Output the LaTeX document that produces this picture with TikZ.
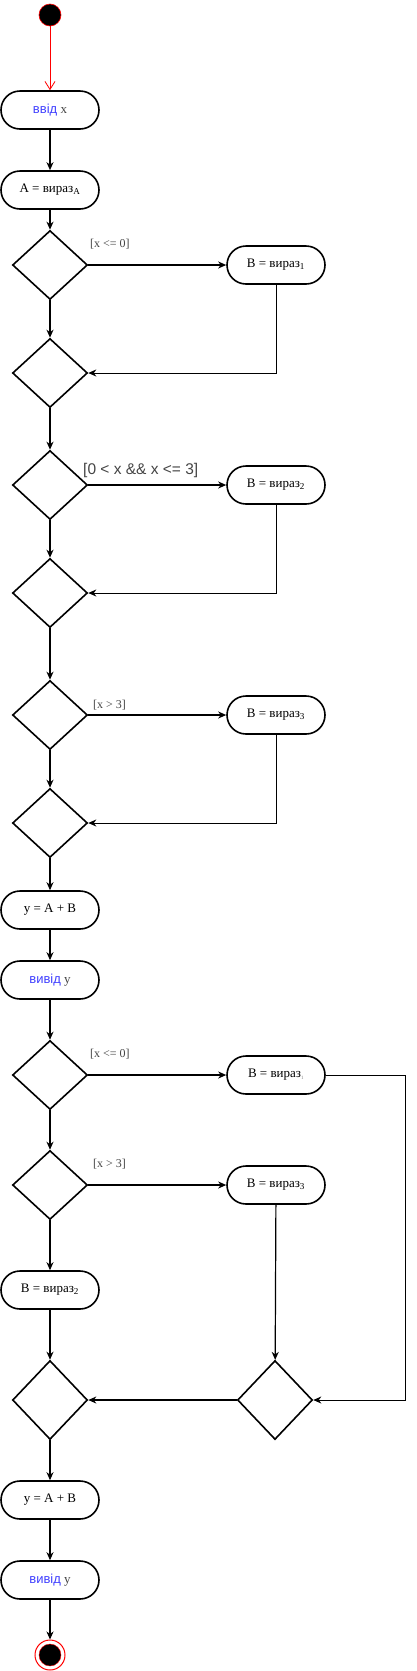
\documentclass[tikz,border=0pt]{standalone}
\usepackage{fontspec}
\usepackage{xcolor}
\setmainfont{Liberation Serif}
\newfontfamily\sansfnt{Liberation Sans}
\usetikzlibrary{shapes.geometric,arrows.meta}
\definecolor{keyblue}{HTML}{3F3FFF}
\definecolor{guardgray}{HTML}{444444}

\begin{document}
\begin{tikzpicture}[x=1pt, y=-1pt]
      % Define styles
      \tikzset{
        terminal/.style={draw, line width=1.6pt, rounded corners=19pt, minimum width=98pt, minimum height=38pt, inner sep=0pt, font=\fontsize{13}{15}\selectfont},
        decision/.style={draw, diamond, line width=1.6pt, minimum width=75pt, minimum height=69pt, inner sep=0pt},
        flow/.style={-{Stealth[length=8pt, width=7pt, inset=2.5pt]}, line width=1.2pt},
        back/.style={flow, line width=0.9pt},
        guard/.style={font=\fontsize{12}{14}\selectfont, text=guardgray, anchor=west, inner sep=0pt},
        kw/.style={font=\sansfnt\fontsize{12}{14}\selectfont, text=keyblue}
      }
      \useasboundingbox (0,0) rectangle (417,1671);
      % Start and input
      \node[circle, draw=red, fill=black, line width=0.6pt, minimum size=22pt, inner sep=0pt] (start) at (50,15) {};
      \node[terminal] (inx) at (50,110) {{\sansfnt\color{keyblue}ввід} {\color{guardgray}x}};
      \node[terminal] (aexp) at (50,190) {A = вираз\textsubscript{A}};
      % First choice
      \node[decision] (d1) at (50,265) {};
      \node[terminal] (b1) at (276,265) {B = вираз\textsubscript{1}};
      \node[decision] (m1) at (50,373) {};
      \node[decision] (d2) at (50,485) {};
      \node[terminal] (b2) at (276,485) {B = вираз\textsubscript{2}};
      \node[decision] (m2) at (50,593) {};
      \node[decision] (d3) at (50,715) {};
      \node[terminal] (b3) at (276,715) {B = вираз\textsubscript{3}};
      \node[decision] (m3) at (50,823) {};
      \node[terminal] (ysum) at (50,910) {y = A + B};
      \node[terminal] (outy) at (50,980) {{\sansfnt\color{keyblue}вивід} {\color{guardgray}y}};
      % Second choice
      \node[decision] (d4) at (50,1075) {};
      \node[terminal] (bb1) at (276,1075) {B = вираз\textsubscript{\fontsize{5}{5}\selectfont\color{gray}1}};
      \node[decision] (d5) at (50,1185) {};
      \node[terminal] (bb3) at (276,1185) {B = вираз\textsubscript{3}};
      \node[terminal] (bb2) at (50,1290) {B = вираз\textsubscript{2}};
      \node[decision, minimum height=79pt] (j1) at (50,1400) {};
      \node[decision, minimum height=79pt] (j2) at (275,1400) {};
      \coordinate (rside) at (405,1075);
      \node[terminal] (ysum2) at (50,1500) {y = A + B};
      \node[terminal] (outy2) at (50,1580) {{\sansfnt\color{keyblue}вивід} {\color{guardgray}y}};
      \node[circle, draw=red, line width=1pt, minimum size=30pt, inner sep=0pt] (fin) at (50,1655) {};
      \fill[black, draw=red, line width=0.4pt] (fin.center) circle (11pt);
      % Guards
      \node[guard] at (90,244) {[x <= 0]};
      \node[guard, font=\sansfnt\fontsize{15.5}{17}\selectfont] at (83,470) {[0 < x \&\& x <= 3]};
      \node[guard] at (93,705) {[x > 3]};
      \node[guard] at (90,1054) {[x <= 0]};
      \node[guard] at (93,1164) {[x > 3]};
      % Connectors
      \draw[red, line width=0.8pt, -{Straight Barb[length=8pt, width=10pt]}] (start) -- (inx);
      \draw[flow] (inx) -- (aexp);
      \draw[flow] (aexp) -- (d1);
      \draw[flow] (d1) -- (b1);
      \draw[flow] (d1) -- (m1);
      \draw[back] (b1.south) |- (m1.east);
      \draw[flow] (m1) -- (d2);
      \draw[flow] (d2) -- (b2);
      \draw[flow] (d2) -- (m2);
      \draw[back] (b2.south) |- (m2.east);
      \draw[flow] (m2) -- (d3);
      \draw[flow] (d3) -- (b3);
      \draw[flow] (d3) -- (m3);
      \draw[back] (b3.south) |- (m3.east);
      \draw[flow] (m3) -- (ysum);
      \draw[flow] (ysum) -- (outy);
      \draw[flow] (outy) -- (d4);
      \draw[flow] (d4) -- (bb1);
      \draw[flow] (d4) -- (d5);
      \draw[flow] (d5) -- (bb3);
      \draw[flow] (d5) -- (bb2);
      \draw[flow] (bb2) -- (j1);
      \draw[flow] (bb3) -- (j2);
      \draw[back] (bb1.east) -- (rside) |- (j2.east);
      \draw[flow] (j2) -- (j1);
      \draw[flow] (j1) -- (ysum2);
      \draw[flow] (ysum2) -- (outy2);
      \draw[flow] (outy2) -- (fin);
    \end{tikzpicture}
\end{document}
